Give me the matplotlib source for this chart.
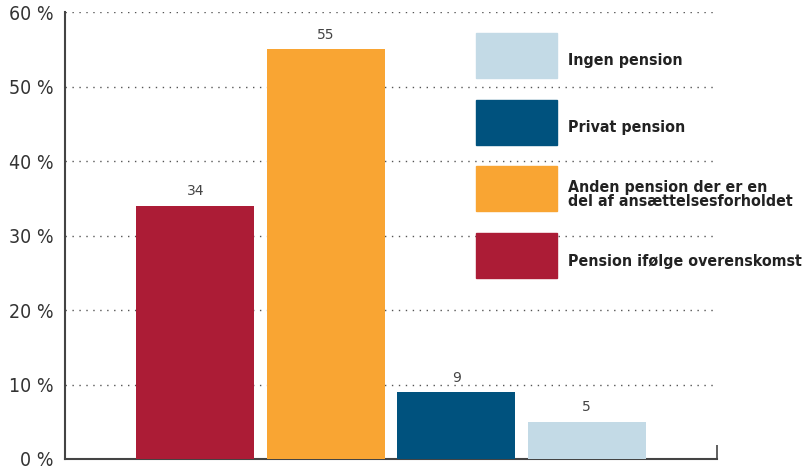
import matplotlib.pyplot as plt
from matplotlib.patches import Rectangle

categories = ['Pension ifølge overenskomst',
              'Anden pension der er en\ndel af ansættelsesforholdet',
              'Privat pension',
              'Ingen pension']
values = [34, 55, 9, 5]
colors = ['#AC1C36', '#F9A533', '#00527E', '#C3DAE6']
yticks = [0, 10, 20, 30, 40, 50, 60]

W, H = 811, 473
fig = plt.figure(figsize=(W / 100, H / 100), dpi=100)
ax = fig.add_axes([0.0801, 0.0296, 0.8039, 0.945])

x = range(len(values))
ax.bar(x, values, width=0.905, color=colors, zorder=3)
for xi, v in zip(x, values):
    ax.text(xi, v + 1.0, str(v), ha='center', va='bottom', fontsize=10, color='#444444', zorder=4)

ax.set_xlim(-1, 4)
ax.set_ylim(0, 60)
ax.set_yticks(yticks)
ax.set_yticklabels([f'{t} %' for t in yticks], fontsize=14, color='#333333',
                   fontstretch='condensed')
ax.tick_params(axis='y', length=0, pad=8)
ax.set_xticks([-1, 4])
ax.set_xticklabels(['', ''])
ax.tick_params(axis='x', direction='in', length=10, width=1.2, color='#444444')

ax.grid(axis='y', linestyle=(0, (1, 4)), color='#555555', linewidth=1, zorder=0)
for s in ['top', 'right']:
    ax.spines[s].set_visible(False)
for s in ['left', 'bottom']:
    ax.spines[s].set_color('#444444')
    ax.spines[s].set_linewidth(1.5)

# legend drawn by hand, top to bottom in reverse bar order
for i, (c, label) in enumerate(zip(colors[::-1], categories[::-1])):
    top = 33 + i * 66.7
    fig.add_artist(Rectangle((476 / W, 1 - (top + 45) / H), 81 / W, 45 / H,
                             transform=fig.transFigure, color=c))
    fig.text(568 / W, 1 - (top + 28) / H, label, ha='left', va='center',
             fontsize=11.4, fontweight='semibold', fontstretch='condensed',
             color='#222222', linespacing=0.95)

fig.savefig('out.png', dpi=100)
